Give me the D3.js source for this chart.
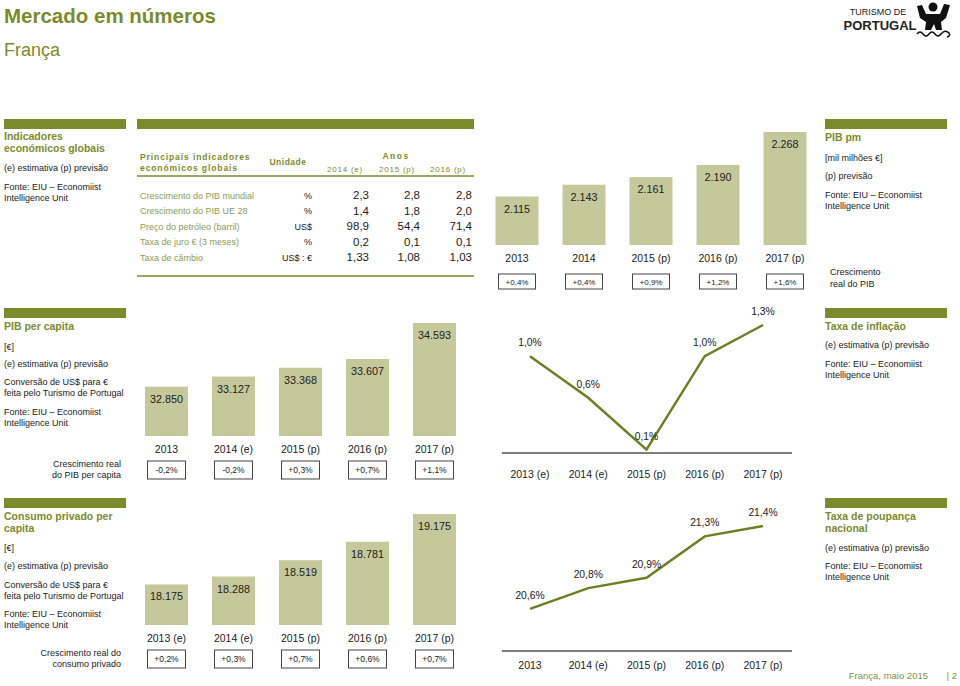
<!DOCTYPE html>
<html><head><meta charset="utf-8">
<script src="https://cdn.jsdelivr.net/npm/d3@7"></script>
<style>body{margin:0;background:#fff}svg{display:block;font-family:"Liberation Sans",Arial,sans-serif}</style>
</head><body>
<script>
// ---------- DATA ----------
const tableIndicators = ["Crescimento do PIB mundial","Crescimento do PIB UE 28","Preço do petróleo (barril)","Taxa de juro € (3 meses)","Taxa de câmbio"];
const tableUnits = ["%","%","US$","%","US$ : €"];
const tableYears = ["2014 (e)","2015 (p)","2016 (p)"];
const table2014 = [2.3,1.4,98.9,0.2,1.33];
const table2015 = [2.8,1.8,54.4,0.1,1.08];
const table2016 = [2.8,2.0,71.4,0.1,1.03];
const tableDecimals = [1,1,1,1,2];

const pibYears = ["2013","2014","2015 (p)","2016 (p)","2017 (p)"];
const pibValues = [2115,2143,2161,2190,2268];
const pibGrowth = ["+0,4%","+0,4%","+0,9%","+1,2%","+1,6%"];

const capitaYears = ["2013","2014 (e)","2015 (p)","2016 (p)","2017 (p)"];
const capitaValues = [32850,33127,33368,33607,34593];
const capitaGrowth = ["-0,2%","-0,2%","+0,3%","+0,7%","+1,1%"];

const inflYears = ["2013 (e)","2014 (e)","2015 (p)","2016 (p)","2017 (p)"];
const inflValues = [1.0,0.6,0.1,1.0,1.3];

const consYears = ["2013 (e)","2014 (e)","2015 (p)","2016 (p)","2017 (p)"];
const consValues = [18175,18288,18519,18781,19175];
const consGrowth = ["+0,2%","+0,3%","+0,7%","+0,6%","+0,7%"];

const savYears = ["2013","2014 (e)","2015 (p)","2016 (p)","2017 (p)"];
const savValues = [20.6,20.8,20.9,21.3,21.4];

// ---------- STYLE ----------
const OLIVE = "#7b8b2b", BAR = "#c5c89b", LINE = "#6c8023", TXT = "#222", ROWTXT = "#8c9a5c";
const loc = d3.formatLocale({decimal:",", thousands:".", grouping:[3], currency:["","€"]});
const fmtInt = loc.format(",d");
const fmtPct = v => loc.format(".1f")(v) + "%";

const svg = d3.select("body").append("svg").attr("width",960).attr("height",686);

function txt(g, x, y, s, o = {}) {
  return g.append("text").attr("x",x).attr("y",y).text(s)
    .attr("font-size", o.size || 9)
    .attr("font-weight", o.bold ? "bold" : "normal")
    .attr("fill", o.fill || TXT)
    .attr("text-anchor", o.anchor || "start")
    .attr("letter-spacing", o.ls || 0);
}
function hbar(x, y, w) { svg.append("rect").attr("x",x).attr("y",y).attr("width",w).attr("height",10).attr("fill",OLIVE); }
const HEAD = {size:10.5, bold:true, fill:OLIVE};

// ---------- TITLE ----------
txt(svg, 4, 23, "Mercado em números", {size:20.5, bold:true, fill:OLIVE});
txt(svg, 4, 56, "França", {size:18, fill:OLIVE});

// Logo
txt(svg, 878, 15, "TURISMO DE", {size:9, anchor:"middle"});
txt(svg, 880, 30, "PORTUGAL", {size:13, bold:true, anchor:"middle"});
const logo = svg.append("g").attr("fill","#111");
logo.append("circle").attr("cx",933).attr("cy",7).attr("r",4.5);
logo.append("path").attr("d","M917,6 L922,5 L926,14 L940,14 L944,4 L950,5 L946,18 L941,22 L942,30 L936,30 L934,24 L931,30 L925,30 L926,22 L920,18 Z");
svg.append("path").attr("d","M917,34 q3,-4 6,0 t6,0 t6,0 t6,0 q4,-5 8,-1 q2,3 -2,4").attr("fill","none").attr("stroke","#111").attr("stroke-width",1.5);

// ---------- SECTION 1: table ----------
hbar(4,119,122);
txt(svg,4,140,"Indicadores",HEAD);
txt(svg,4,152,"económicos  globais",HEAD);
txt(svg,4,171,"(e) estimativa (p) previsão");
txt(svg,4,190,"Fonte: EIU – Economiist");
txt(svg,4,201,"Intelligence Unit");

hbar(137,119,337);
txt(svg,140,160,"Principais indicadores",{size:8.5,bold:true,fill:OLIVE,ls:0.9});
txt(svg,140,171,"económicos globais",{size:8.5,bold:true,fill:OLIVE,ls:0.9});
txt(svg,288,165,"Unidade",{size:8.5,bold:true,fill:OLIVE,anchor:"middle",ls:0.5});
txt(svg,396,159,"Anos",{size:8.5,bold:true,fill:OLIVE,anchor:"middle",ls:1.5});
const colX = [345,397,448];
tableYears.forEach((y,i)=>txt(svg,colX[i],172,y,{size:8,fill:OLIVE,anchor:"middle",ls:0.8}));
svg.append("line").attr("x1",137).attr("x2",474).attr("y1",176).attr("y2",176).attr("stroke",OLIVE).attr("stroke-width",1.5);
svg.append("line").attr("x1",137).attr("x2",474).attr("y1",276).attr("y2",276).attr("stroke",OLIVE).attr("stroke-width",1.5);
const rowY = d3.scalePoint().domain(tableIndicators).range([199,261]);
const valX = [369,420,472];
tableIndicators.forEach((name,i)=>{
  const y = rowY(name);
  txt(svg,140,y-0.5,name,{size:9,fill:ROWTXT});
  txt(svg,312,y-0.5,tableUnits[i],{size:9,fill:TXT,anchor:"end"});
  [table2014,table2015,table2016].forEach((arr,j)=>{
    txt(svg,valX[j],y,loc.format("."+tableDecimals[i]+"f")(arr[i]),{size:11.5,anchor:"end"});
  });
});

// ---------- chart helpers ----------
function barChart(o) {
  const g = svg.append("g");
  const x = d3.scalePoint().domain(o.years).range(o.xr);
  const y = d3.scaleLinear().domain([o.min, d3.max(o.values)]).range([o.bottom, o.top]);
  o.years.forEach((yr,i)=>{
    const v = o.values[i], cx = x(yr);
    g.append("rect").attr("x",cx-o.bw/2).attr("y",y(v)).attr("width",o.bw).attr("height",o.bottom-y(v)).attr("fill",BAR);
    txt(g,cx,y(v)+16,fmtInt(v),{size:10.8,anchor:"middle"});
    txt(g,cx,o.yearY,yr,{size:10.5,anchor:"middle"});
    g.append("rect").attr("x",cx-o.boxW/2).attr("y",o.boxY).attr("width",o.boxW).attr("height",o.boxH)
      .attr("fill","#fff").attr("stroke","#444").attr("stroke-width",1);
    txt(g,cx,o.boxY+o.boxH/2+3,o.growth[i],{size:o.boxFont,anchor:"middle"});
  });
}
function lineChart(o) {
  const g = svg.append("g");
  const x = d3.scalePoint().domain(o.years).range(o.xr);
  const y = d3.scaleLinear().domain(o.domain).range(o.range);
  g.append("line").attr("x1",502).attr("x2",792).attr("y1",o.axisY).attr("y2",o.axisY).attr("stroke","#555").attr("stroke-width",1.5);
  const line = d3.line().x((d,i)=>x(o.years[i])).y(d=>y(d));
  g.append("path").datum(o.values).attr("d",line).attr("fill","none").attr("stroke",LINE).attr("stroke-width",2.5);
  o.values.forEach((v,i)=>{
    txt(g,x(o.years[i]),y(v)-10,fmtPct(v),{size:10.3,anchor:"middle"});
    txt(g,x(o.years[i]),o.labelY,o.years[i],{size:10.5,anchor:"middle"});
  });
}

// ---------- SECTION 1 right: PIB pm ----------
barChart({years:pibYears, values:pibValues, growth:pibGrowth, xr:[517,785], bw:43, min:2000, bottom:245, top:132,
  yearY:262, boxY:274, boxH:15, boxW:37, boxFont:8});
hbar(825,119,122);
txt(svg,825,141,"PIB pm",HEAD);
txt(svg,825,161,"[mil milhões €]");
txt(svg,825,179,"(p) previsão");
txt(svg,825,198,"Fonte: EIU – Economiist");
txt(svg,825,209,"Intelligence Unit");
txt(svg,830,275,"Crescimento");
txt(svg,830,287,"real do PIB");

// ---------- SECTION 2: PIB per capita ----------
hbar(4,308,122);
txt(svg,4,330,"PIB per capita",HEAD);
txt(svg,4,350,"[€]");
txt(svg,4,367,"(e) estimativa (p) previsão");
txt(svg,4,385,"Conversão de US$ para €");
txt(svg,4,396,"feita pelo Turismo de Portugal");
txt(svg,4,415,"Fonte: EIU – Economiist");
txt(svg,4,426,"Intelligence Unit");
txt(svg,121,467,"Crescimento real",{anchor:"end"});
txt(svg,121,478,"do PIB per capita",{anchor:"end"});
barChart({years:capitaYears, values:capitaValues, growth:capitaGrowth, xr:[166.5,434.5], bw:43, min:31500, bottom:436, top:323,
  yearY:453, boxY:461, boxH:18, boxW:38, boxFont:8.5});

lineChart({years:inflYears, values:inflValues, xr:[530,763], domain:[0,1.3], range:[460,325], axisY:453, labelY:478});
hbar(825,308,122);
txt(svg,825,330,"Taxa de inflação",HEAD);
txt(svg,825,348,"(e) estimativa (p) previsão");
txt(svg,825,367,"Fonte: EIU – Economiist");
txt(svg,825,378,"Intelligence Unit");

// ---------- SECTION 3: Consumo privado ----------
hbar(4,498,122);
txt(svg,4,520,"Consumo privado per",HEAD);
txt(svg,4,532,"capita",HEAD);
txt(svg,4,551,"[€]");
txt(svg,4,569,"(e) estimativa (p) previsão");
txt(svg,4,588,"Conversão de US$ para €");
txt(svg,4,599,"feita pelo Turismo de Portugal");
txt(svg,4,617,"Fonte: EIU – Economiist");
txt(svg,4,628,"Intelligence Unit");
txt(svg,121,656,"Crescimento real do",{anchor:"end"});
txt(svg,121,667,"consumo privado",{anchor:"end"});
barChart({years:consYears, values:consValues, growth:consGrowth, xr:[166.5,434.5], bw:43, min:17600, bottom:625, top:514,
  yearY:642, boxY:650, boxH:18, boxW:38, boxFont:8.5});

lineChart({years:savYears, values:savValues, xr:[530,763], domain:[20,21.4], range:[671,526], axisY:651, labelY:669});
hbar(825,498,122);
txt(svg,825,520,"Taxa de poupança",HEAD);
txt(svg,825,532,"nacional",HEAD);
txt(svg,825,551,"(e) estimativa (p) previsão");
txt(svg,825,569,"Fonte: EIU – Economiist");
txt(svg,825,580,"Intelligence Unit");

// footer
txt(svg,928,679,"França, maio 2015",{size:9.5,fill:"#83943a",anchor:"end"});
txt(svg,957,679,"| 2",{size:9.5,fill:"#83943a",anchor:"end"});
</script>
</body></html>
